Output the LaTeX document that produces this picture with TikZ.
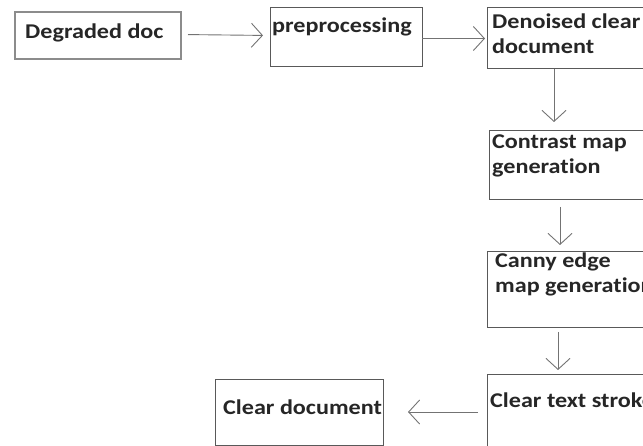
\documentclass[tikz,border=0pt]{standalone}
\usepackage{fontspec}
\setmainfont{Carlito}[FakeStretch=1.15, Ligatures={NoCommon}]
\usetikzlibrary{arrows.meta}
\tikzset{
  box/.style 2 args = {draw=black!65, line width=1pt, inner sep=0pt,
                outer sep=0pt, anchor=north west,
                minimum width=#1, minimum height=#2},
  txt/.style = {anchor=north west, inner sep=0pt, align=left,
                font=\bfseries\fontsize{21}{25}\selectfont, text=black!85},
  arr/.style = {draw=black!55, line width=0.9pt,
                -{Straight Barb[length=11pt,width=24pt]}}
}

\begin{document}
\begin{tikzpicture}[x=1pt,y=-1pt]
	\useasboundingbox (0,0) rectangle (643,446);
	\clip (0,0) rectangle (643,446);

	% Boxes
	\node[box={166}{47}, draw=black!45, line width=2pt] (deg) at (15,12) {};
	\node[box={152}{59}] (pre) at (270,8) {};
	\node[box={180}{61}] (den) at (487,8) {};
	\node[box={180}{69}] (con) at (489,131) {};
	\node[box={180}{76}] (can) at (487,252) {};
	\node[box={180}{85}] (stk) at (487,375) {};
	\node[box={168}{65}] (out) at (215,380) {};

	% Texts
	\node[txt] (deg-t) at ([shift={(10,12)}]deg.north west) {Degraded doc};
	\node[txt] (pre-t) at ([shift={(2,10)}]pre.north west) {preprocessing};
	\node[txt] (den-t) at ([shift={(5,6)}]den.north west) {Denoised clear\\document};
	\node[txt] (con-t) at ([shift={(3,4)}]con.north west) {Contrast map\\generation};
	\node[txt] (can-t) at ([shift={(8,1)}]can.north west) {Canny edge\\map generation};
	\node[txt] (stk-t) at ([shift={(3,18)}]stk.north west) {Clear text stroke};
	\node[txt] (out-t) at ([shift={(8,20)}]out.north west) {Clear document};

	% Arrows
	\draw[arr, shorten <=7pt, shorten >=7pt] ([yshift=1pt]deg.east) -- (deg.east -| pre.west);
	\draw[arr, shorten >=2pt] ([yshift=-1pt]pre.east) -- ([yshift=-1pt]pre.east -| den.west);
	\draw[arr, shorten >=9pt] ([xshift=67pt]den.south west) -- ([xshift=65pt]con.north west);
	\draw[arr, shorten <=7pt, shorten >=7pt] ([xshift=71pt]con.south west) -- ([xshift=73pt]can.north west);
	\draw[arr, shorten <=4pt, shorten >=5pt] ([xshift=71pt]can.south west) -- ([xshift=71pt]stk.north west);
	\draw[arr, shorten <=9pt, shorten >=25pt] ([yshift=-37pt]stk.north west) -- ([yshift=-37pt]stk.north west -| out.east);

\end{tikzpicture}
\end{document}
